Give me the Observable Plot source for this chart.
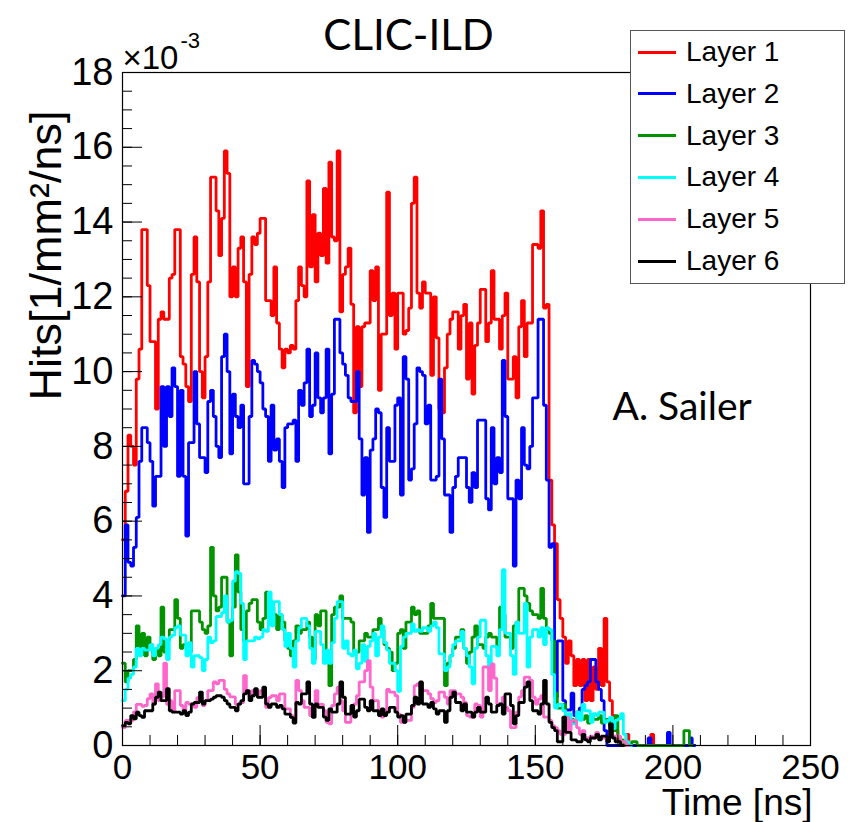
<!DOCTYPE html>
<html>
<head>
<meta charset="utf-8">
<script src="https://cdn.jsdelivr.net/npm/d3@7"></script>
<script src="https://cdn.jsdelivr.net/npm/@observablehq/plot@0.6"></script>
<style>
  html, body { margin: 0; padding: 0; background: white; }
  #wrap { position: relative; width: 850px; height: 822px; overflow: hidden; }
  #legend { position: absolute; left: 630px; top: 30px; width: 215px; height: 254px;
    background: white; border: 1px solid #555; box-sizing: border-box;
    font-family: "Liberation Sans", Arial, sans-serif; font-size: 28px; color: black; }
  .row { position: absolute; left: 0; height: 40px; display: flex; align-items: center; }
  .sw { width: 38px; height: 3px; margin-left: 7px; margin-right: 10px; }
</style>
</head>
<body>
<div id="wrap"><div id="legend"></div></div>
<script>
// Time bins: 1 ns wide, starting at 0 ns. Values in units of 1e-3 hits / mm^2 / ns.
const seriesNames = ["Layer 1", "Layer 2", "Layer 3", "Layer 4", "Layer 5", "Layer 6"];
const seriesColors = ["#ff0000", "#0000ff", "#009400", "#00ffff", "#ff66cc", "#000000"];

const layer1 = [
  5.5, 6.8, 8.3, 8.0, 7.5, 9.8, 10.6, 13.8, 13.8, 12.3, 10.8, 10.8, 9.0, 11.4, 11.6, 11.4, 11.4, 12.5, 12.6, 13.8,
  13.8, 10.4, 10.2, 9.6, 9.2, 12.6, 13.6, 12.4, 10.0, 9.3, 10.4, 12.4, 15.2, 15.2, 14.3, 13.1, 14.1, 15.9, 15.3, 12.0,
  12.8, 12.0, 13.3, 13.6, 12.4, 9.6, 12.6, 13.6, 13.4, 13.7, 14.1, 14.1, 11.9, 11.9, 11.5, 12.8, 11.3, 10.6, 10.1, 10.6,
  10.5, 10.7, 10.6, 11.9, 12.8, 12.3, 12.0, 15.1, 12.8, 14.2, 12.4, 13.7, 13.1, 14.9, 12.9, 15.6, 13.6, 13.5, 15.9, 11.6,
  12.6, 12.8, 13.3, 11.8, 8.9, 11.2, 9.6, 11.2, 11.3, 11.3, 12.7, 11.9, 12.8, 9.5, 11.0, 11.0, 14.8, 11.5, 12.1, 10.6,
  12.1, 12.1, 11.0, 11.1, 11.7, 14.5, 15.2, 12.1, 11.7, 12.4, 12.1, 12.1, 9.9, 12.0, 10.9, 9.0, 8.9, 10.1, 11.0, 11.4,
  11.6, 11.6, 10.6, 11.5, 11.8, 9.8, 11.3, 9.4, 10.7, 11.3, 12.2, 12.2, 10.8, 11.3, 12.7, 11.4, 11.4, 10.6, 11.5, 12.1,
  9.8, 9.8, 10.4, 9.3, 11.2, 11.9, 10.4, 11.3, 11.3, 13.4, 13.4, 13.3, 14.3, 11.7, 11.8, 7.1, 5.9, 5.4, 3.9, 3.4,
  2.9, 2.2, 2.8, 2.4, 1.6, 2.3, 1.6, 2.3, 1.2, 2.3, 1.2, 2.1, 1.5, 2.6, 1.6, 3.4, 1.7, 1.2, 0.8, 0.4,
  0.1, 0, 0, 0.3, 0, 0, 0, 0, 0, 0, 0, 0, 0.3, 0, 0
];
const layer2 = [
  4.0, 5.9, 4.9, 4.8, 5.3, 6.1, 7.6, 8.5, 8.5, 8.1, 7.6, 6.4, 7.2, 7.2, 9.6, 8.0, 9.6, 8.8, 10.1, 9.6,
  7.2, 9.5, 7.2, 5.6, 8.1, 8.1, 10.0, 8.6, 7.7, 7.7, 7.3, 9.2, 9.5, 8.8, 8.0, 7.7, 10.4, 11.0, 10.0, 7.8,
  9.4, 8.8, 8.5, 9.1, 7.0, 7.0, 8.8, 10.3, 10.2, 10.0, 9.7, 9.0, 8.8, 7.6, 9.1, 7.9, 8.2, 7.6, 6.9, 8.5,
  8.6, 8.6, 8.7, 7.6, 9.5, 9.1, 9.7, 10.6, 8.8, 9.1, 10.5, 9.3, 8.9, 9.3, 10.6, 7.8, 9.4, 11.4, 11.4, 10.5,
  10.2, 9.9, 9.3, 9.2, 9.2, 10.0, 8.2, 6.7, 7.7, 5.7, 7.9, 8.2, 9.0, 8.9, 6.9, 6.1, 8.5, 7.6, 7.6, 9.1,
  9.3, 6.7, 10.4, 9.8, 7.1, 7.4, 8.6, 10.1, 10.0, 9.9, 8.6, 9.1, 7.1, 7.1, 7.2, 9.8, 8.2, 6.7, 6.7, 5.7,
  6.9, 7.2, 7.7, 7.7, 7.7, 6.9, 6.5, 7.3, 6.9, 8.7, 8.7, 8.7, 6.6, 6.3, 8.5, 7.0, 7.7, 7.3, 10.3, 8.8,
  6.6, 6.6, 4.8, 7.1, 6.6, 8.5, 7.5, 7.4, 8.0, 9.3, 9.3, 11.4, 11.4, 9.1, 7.1, 5.3, 5.4, 1.3, 2.8, 2.8,
  1.2, 0.95, 0.95, 1.4, 0.8, 0.8, 1.0, 1.5, 1.6, 1.7, 2.3, 2.3, 1.7, 1.5, 1.2, 0.4, 0, 0, 0, 0,
  0, 0, 0, 0, 0, 0, 0, 0, 0, 0, 0, 0.2, 0, 0, 0, 0, 0, 0, 0.35, 0,
  0, 0, 0, 0, 0, 0, 0.2, 0
];
const layer3 = [
  2.2, 1.7, 2.0, 2.0, 2.3, 3.2, 2.6, 3.0, 2.4, 2.9, 2.7, 2.3, 2.6, 2.4, 3.7, 2.5, 2.8, 3.1, 3.1, 3.9,
  3.4, 2.6, 2.7, 2.7, 2.5, 3.6, 3.6, 3.6, 3.3, 3.1, 3.0, 3.2, 5.3, 4.0, 3.6, 3.7, 4.5, 4.5, 3.3, 2.4,
  3.7, 5.1, 4.1, 3.1, 2.8, 3.6, 3.8, 3.9, 3.9, 3.3, 3.1, 3.4, 4.1, 3.9, 3.7, 3.5, 3.1, 3.5, 3.3, 2.8,
  2.6, 2.4, 2.8, 3.2, 3.0, 3.1, 3.1, 3.3, 2.9, 2.3, 3.5, 3.2, 3.6, 3.6, 2.3, 1.6, 3.5, 3.7, 3.7, 4.0,
  3.4, 3.4, 3.4, 3.3, 2.5, 2.5, 2.8, 2.8, 3.0, 2.9, 2.9, 3.1, 3.1, 3.4, 3.1, 2.7, 2.6, 2.5, 2.0, 2.2,
  3.0, 3.1, 2.6, 3.3, 3.3, 3.7, 3.5, 3.6, 3.0, 3.0, 3.0, 3.2, 3.8, 3.4, 3.4, 3.4, 3.4, 1.6, 2.2, 2.4,
  2.6, 2.9, 2.9, 3.1, 2.6, 2.2, 2.5, 2.9, 3.2, 2.7, 2.7, 2.6, 2.9, 3.0, 2.9, 2.9, 2.6, 3.7, 3.5, 2.9,
  2.9, 2.6, 3.2, 3.3, 4.2, 4.2, 4.0, 3.8, 3.6, 3.5, 3.5, 3.4, 4.2, 3.4, 3.1, 3.0, 2.8, 1.4, 1.0, 1.0,
  1.1, 0.8, 0.7, 0.7, 0.6, 0.9, 0.7, 0.7, 0.8, 0.6, 0.8, 0.7, 0.7, 0.8, 0.6, 0.7, 0.7, 0.5, 0.4, 0.8,
  0.2, 0.15, 0, 0, 0, 0.1, 0.1, 0, 0, 0, 0, 0, 0, 0, 0, 0, 0, 0, 0, 0,
  0, 0, 0, 0, 0.4, 0.4, 0
];
const layer4 = [
  1.2, 1.5, 1.8, 1.9, 2.1, 2.6, 2.4, 2.6, 2.55, 2.55, 2.7, 2.4, 2.6, 2.7, 2.9, 2.85, 2.3, 2.9, 2.95, 3.15,
  3.2, 2.95, 2.95, 2.4, 2.75, 2.1, 2.4, 2.4, 2.35, 2.0, 2.3, 2.9, 2.75, 2.8, 3.45, 3.45, 3.55, 4.0, 3.3, 3.35,
  4.4, 4.65, 4.6, 3.8, 2.3, 2.8, 2.8, 2.8, 2.9, 2.85, 2.9, 3.1, 3.05, 4.1, 3.2, 3.85, 3.85, 3.5, 3.1, 2.65,
  3.0, 2.6, 2.1, 2.8, 3.15, 3.4, 3.4, 3.2, 2.6, 2.2, 3.05, 3.05, 2.7, 2.2, 2.55, 2.2, 2.75, 3.4, 3.85, 3.85,
  2.6, 2.8, 2.45, 2.4, 2.55, 2.05, 2.2, 2.7, 2.25, 2.65, 2.8, 3.0, 2.4, 2.9, 3.2, 2.75, 2.55, 2.2, 2.2, 2.0,
  1.45, 2.65, 2.9, 3.0, 3.0, 3.25, 3.05, 3.1, 3.05, 3.15, 3.15, 3.05, 3.2, 3.3, 3.15, 2.45, 2.45, 2.0, 2.1, 2.4,
  2.7, 2.8, 2.8, 3.05, 2.6, 2.4, 2.1, 1.65, 2.6, 2.9, 3.35, 3.35, 2.4, 2.1, 2.65, 2.65, 2.4, 3.1, 4.7, 3.0,
  3.0, 2.4, 1.9, 3.3, 3.0, 3.0, 3.8, 2.1, 2.9, 3.1, 3.1, 2.9, 3.15, 2.7, 3.15, 3.1, 1.9, 1.0, 1.1, 1.1,
  0.93, 0.76, 0.85, 0.58, 0.58, 0.89, 0.67, 1.1, 0.93, 0.93, 0.62, 0.85, 0.8, 0.89, 0.89, 0.62, 0.67, 0.76, 0.45, 0.67,
  0.71, 0.85, 0.3, 0.1, 0
];
const layer5 = [
  0.48, 0.67, 0.67, 0.67, 0.9, 1.1, 1.1, 1.05, 1.07, 1.25, 1.38, 1.1, 1.65, 1.2, 1.3, 2.2, 1.1, 1.2, 0.9, 1.47,
  1.47, 1.07, 0.94, 1.15, 1.11, 1.11, 1.02, 1.28, 1.28, 1.07, 1.2, 1.47, 1.47, 1.7, 1.65, 1.74, 1.74, 1.5, 1.38, 1.3,
  1.3, 1.1, 1.11, 1.15, 1.87, 1.47, 1.3, 1.47, 1.47, 1.38, 1.47, 1.47, 1.02, 1.28, 1.33, 1.33, 1.2, 1.38, 1.38, 0.98,
  0.98, 0.8, 0.75, 1.74, 1.47, 1.2, 1.02, 1.02, 0.8, 1.02, 1.47, 1.1, 1.1, 0.93, 0.62, 0.58, 1.07, 1.38, 1.56, 1.2,
  0.93, 0.62, 0.62, 0.9, 1.11, 1.33, 1.7, 1.7, 2.0, 2.27, 1.56, 1.2, 1.2, 0.9, 0.76, 0.93, 1.5, 1.43, 1.43, 1.33,
  0.84, 0.62, 0.62, 0.67, 0.67, 1.02, 1.6, 1.65, 1.56, 1.47, 1.47, 1.38, 1.25, 1.15, 1.2, 1.43, 1.43, 1.29, 1.11, 1.47,
  1.47, 1.38, 1.38, 1.29, 1.15, 0.8, 0.76, 0.76, 1.11, 1.07, 0.76, 2.1, 2.1, 1.47, 2.18, 1.8, 1.11, 1.11, 1.29, 1.02,
  0.93, 0.48, 0.48, 0.89, 1.3, 1.47, 1.83, 1.83, 1.74, 1.29, 1.11, 1.24, 1.33, 0.76, 0.76, 0.67, 0.53, 0.48, 0.4, 0.3,
  0.3, 0.76, 0.4, 0.67, 0.67, 0.48, 0.3, 0.4, 0.2, 0.2, 0.25, 0.2, 0.35, 0.25, 0.2, 0.2, 0.2, 0.4, 0.25, 0.25,
  0.25, 0.1, 0.1, 0
];
const layer6 = [
  0.53, 0.62, 0.58, 0.8, 0.71, 0.89, 0.8, 0.75, 0.93, 0.93, 0.93, 1.11, 1.29, 1.43, 1.2, 1.2, 1.52, 0.93, 0.89, 0.89,
  0.89, 0.84, 0.93, 0.8, 0.89, 1.11, 1.15, 1.15, 1.43, 1.11, 1.2, 1.2, 1.24, 1.29, 1.33, 1.33, 1.29, 1.2, 1.11, 1.02,
  1.02, 0.93, 1.11, 1.2, 1.38, 1.47, 1.2, 1.33, 1.52, 1.29, 1.29, 1.56, 1.11, 1.02, 1.11, 1.11, 1.02, 1.07, 0.98, 0.84,
  0.84, 0.75, 0.6, 1.15, 1.11, 1.38, 1.38, 1.7, 1.11, 0.75, 1.11, 1.02, 1.02, 0.76, 0.67, 0.98, 0.89, 0.89, 1.11, 1.7,
  1.29, 0.84, 0.84, 1.07, 0.76, 0.93, 1.24, 1.24, 1.02, 0.93, 1.2, 0.93, 0.93, 0.8, 0.98, 0.8, 0.89, 1.02, 1.02, 0.89,
  0.76, 0.8, 0.62, 0.84, 0.84, 1.07, 1.29, 1.11, 1.7, 1.11, 1.11, 1.02, 1.15, 0.98, 0.84, 0.93, 0.93, 0.62, 0.93, 1.29,
  1.43, 1.15, 1.15, 0.93, 1.11, 0.89, 0.89, 0.76, 0.89, 1.02, 0.89, 0.89, 1.29, 1.11, 0.89, 0.89, 1.07, 1.11, 0.84, 1.38,
  1.38, 1.07, 0.58, 0.8, 1.15, 1.15, 1.56, 1.7, 1.2, 0.93, 0.93, 0.84, 1.11, 1.74, 1.11, 0.62, 0.48, 0.4, 0.1, 0.1,
  0.76, 0.35, 0.35, 0.15, 0.15, 0.1, 0.1, 0.3, 0.15, 0.1, 0.2, 0.2, 0.3, 0.15, 0.25, 0.25, 0.1, 0.58, 0.2, 0.1,
  0.1, 0
];

const xMajorTicks = [0, 50, 100, 150, 200, 250];
const yMajorTicks = [0, 2, 4, 6, 8, 10, 12, 14, 16, 18];
const xMinorTicks = d3.range(0, 251, 10);
const yMinorTicks = d3.range(0, 18.01, 0.5);

const allLayers = [layer1, layer2, layer3, layer4, layer5, layer6];

// Histogram outline points (left bin edges + closing right edge)
function toSteps(values, name) {
  const pts = values.map((v, i) => ({t: i, v, layer: name}));
  pts.push({t: values.length, v: values[values.length - 1], layer: name});
  return pts;
}

const lineMarks = allLayers.map((vals, k) =>
  Plot.line(toSteps(vals, seriesNames[k]), {
    x: "t", y: "v", curve: "step-after",
    stroke: seriesColors[k], strokeWidth: 2.8, strokeLinejoin: "miter"
  })
);

const chart = Plot.plot({
  width: 850,
  height: 822,
  marginLeft: 122,
  marginRight: 40,
  marginTop: 72,
  marginBottom: 77,
  x: {domain: [0, 250]},
  y: {domain: [0, 18]},
  style: {fontFamily: "'Liberation Sans', Arial, sans-serif", background: "white", color: "black", overflow: "visible"},
  marks: [
    ...lineMarks,
    Plot.frame({stroke: "black", strokeWidth: 1.2}),
    Plot.axisY({ticks: yMinorTicks, tickSize: -10, tickFormat: () => "", label: null, stroke: "black"}),
    Plot.axisY({ticks: yMajorTicks, tickSize: -20, tickFormat: () => "", label: null, stroke: "black"}),
    Plot.axisX({ticks: xMinorTicks, tickSize: -10, tickFormat: () => "", label: null, stroke: "black"}),
    Plot.axisX({ticks: xMajorTicks, tickSize: -20, tickFormat: () => "", label: null, stroke: "black"}),
    Plot.axisY({ticks: yMajorTicks, tickSize: 0, tickPadding: 9, fontSize: 38, label: null, fill: "black"}),
    Plot.axisX({ticks: xMajorTicks, tickSize: 0, tickPadding: 9, fontSize: 35, label: null, fill: "black"}),
    Plot.text(["Time [ns]"], {frameAnchor: "bottom-right", textAnchor: "end", lineAnchor: "bottom", dy: 69, dx: 2, fontSize: 37, fill: "black"}),
    Plot.text(["Hits[1/mm²/ns]"], {frameAnchor: "bottom-left", textAnchor: "start", lineAnchor: "bottom", rotate: -90, dx: -62, dy: -345, fontSize: 45, fill: "black"}),
    Plot.text(["×10"], {frameAnchor: "top-left", textAnchor: "start", lineAnchor: "bottom", dx: 0, dy: -4, fontSize: 33, fill: "black"}),
    Plot.text(["-3"], {frameAnchor: "top-left", textAnchor: "start", lineAnchor: "bottom", dx: 58, dy: -25, fontSize: 22, fill: "black"}),
    Plot.text(["CLIC-ILD"], {frameAnchor: "top", textAnchor: "middle", lineAnchor: "bottom", dx: -58, dy: -23, fontSize: 42, fontFamily: "Lato, 'Open Sans', sans-serif", fill: "black"}),
    Plot.text(["A. Sailer"], {frameAnchor: "top-left", textAnchor: "start", lineAnchor: "bottom", dx: 490, dy: 347, fontSize: 39, fontFamily: "Lato, 'Open Sans', sans-serif", fill: "black"})
  ]
});

const wrap = document.getElementById("wrap");
wrap.insertBefore(chart, wrap.firstChild);

// Legend
const legend = document.getElementById("legend");
seriesNames.forEach((name, k) => {
  const row = document.createElement("div");
  row.className = "row";
  row.style.top = (1 + k * 41.8) + "px";
  const sw = document.createElement("span");
  sw.className = "sw";
  sw.style.background = seriesColors[k];
  const label = document.createElement("span");
  label.textContent = name;
  row.appendChild(sw);
  row.appendChild(label);
  legend.appendChild(row);
});
</script>
</body>
</html>
